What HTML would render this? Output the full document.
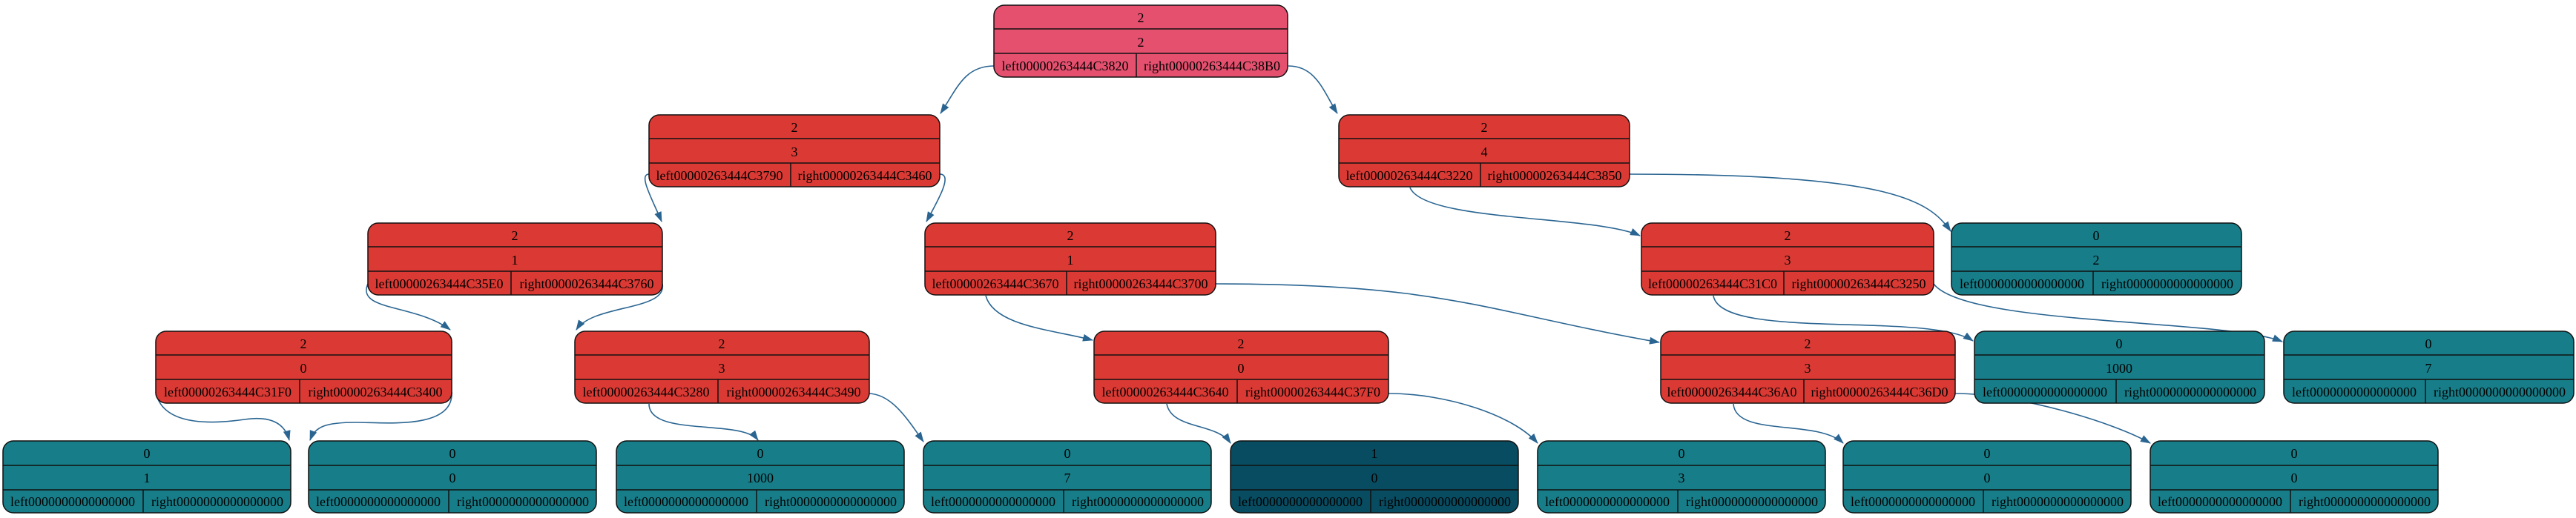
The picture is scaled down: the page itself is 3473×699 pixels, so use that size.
<!DOCTYPE html>
<html><head><meta charset="utf-8"><style>
html,body{margin:0;padding:0;background:#fff;}
svg{display:block;}
text{font-family:"Liberation Serif",serif;font-size:18px;fill:#000;text-anchor:middle;}
.n rect{stroke:#111;stroke-width:1.5;}
.n line{stroke:#111;stroke-width:1.5;}
.e{fill:none;stroke:#2a6592;stroke-width:1.6;}
</style></head><body>
<svg width="3473" height="699" viewBox="0 0 3473 699" xmlns="http://www.w3.org/2000/svg">
<defs><marker id="a" viewBox="0 0 14 10" refX="13" refY="5" markerWidth="14" markerHeight="10" markerUnits="userSpaceOnUse" orient="auto"><path d="M0,0 L14,5 L0,10 z" fill="#2a6592"/></marker></defs>

<g class="edges">
<path class="e" marker-end="url(#a)" d="M1340,89 C1300,89 1290,120 1268,153"/>
<path class="e" marker-end="url(#a)" d="M1737,89 C1775,89 1785,125 1803,153"/>
<path class="e" marker-end="url(#a)" d="M875,235 C860,235 880,270 892,299"/>
<path class="e" marker-end="url(#a)" d="M1267,235 C1285,235 1265,270 1249,299"/>
<path class="e" marker-end="url(#a)" d="M1901,253 C1920,300 2150,290 2211,318"/>
<path class="e" marker-end="url(#a)" d="M2197,235 C2550,235 2600,270 2630,312"/>
<path class="e" marker-end="url(#a)" d="M496,383 C480,420 560,410 607,445"/>
<path class="e" marker-end="url(#a)" d="M893,383 C900,420 800,410 777,445"/>
<path class="e" marker-end="url(#a)" d="M1329,399 C1340,440 1420,445 1473,459"/>
<path class="e" marker-end="url(#a)" d="M1639,383 C1950,383 2000,420 2237,462"/>
<path class="e" marker-end="url(#a)" d="M2310,399 C2320,460 2600,420 2660,460"/>
<path class="e" marker-end="url(#a)" d="M2607,383 C2650,440 3000,430 3077,461"/>
<path class="e" marker-end="url(#a)" d="M210,529 C220,580 300,570 330,566 C370,560 385,575 390,594"/>
<path class="e" marker-end="url(#a)" d="M609,529 C612,580 520,570 480,570 C440,570 425,575 418,594"/>
<path class="e" marker-end="url(#a)" d="M875,545 C875,590 1000,565 1022,594"/>
<path class="e" marker-end="url(#a)" d="M1170,531 C1200,531 1220,560 1245,596"/>
<path class="e" marker-end="url(#a)" d="M1573,545 C1580,580 1640,570 1659,598"/>
<path class="e" marker-end="url(#a)" d="M1872,531 C1950,531 2040,560 2073,598"/>
<path class="e" marker-end="url(#a)" d="M2337,545 C2340,590 2450,565 2485,598"/>
<path class="e" marker-end="url(#a)" d="M2636,531 C2720,531 2850,570 2899,598"/>
</g>

<!-- Root -->
<g class="n" transform="translate(1340,7)"><rect x="0" y="0" width="396" height="97" rx="14" fill="#E5506F"/><line x1="0" y1="32" x2="396" y2="32"/><line x1="0" y1="65" x2="396" y2="65"/><line x1="192" y1="65" x2="192" y2="97"/><text x="198" y="23">2</text><text x="198" y="56">2</text><text x="96" y="88">left00000263444C3820</text><text x="294" y="88">right00000263444C38B0</text></g>

<g class="n" transform="translate(875,155)"><rect x="0" y="0" width="392" height="97" rx="14" fill="#DB3A34"/><line x1="0" y1="32" x2="392" y2="32"/><line x1="0" y1="65" x2="392" y2="65"/><line x1="191" y1="65" x2="191" y2="97"/><text x="196" y="23">2</text><text x="196" y="56">3</text><text x="95" y="88">left00000263444C3790</text><text x="291" y="88">right00000263444C3460</text></g>

<g class="n" transform="translate(1805,155)"><rect x="0" y="0" width="392" height="97" rx="14" fill="#DB3A34"/><line x1="0" y1="32" x2="392" y2="32"/><line x1="0" y1="65" x2="392" y2="65"/><line x1="191" y1="65" x2="191" y2="97"/><text x="196" y="23">2</text><text x="196" y="56">4</text><text x="95" y="88">left00000263444C3220</text><text x="291" y="88">right00000263444C3850</text></g>

<g class="n" transform="translate(496,301)"><rect x="0" y="0" width="397" height="97" rx="14" fill="#DB3A34"/><line x1="0" y1="32" x2="397" y2="32"/><line x1="0" y1="65" x2="397" y2="65"/><line x1="193" y1="65" x2="193" y2="97"/><text x="198" y="23">2</text><text x="198" y="56">1</text><text x="96" y="88">left00000263444C35E0</text><text x="295" y="88">right00000263444C3760</text></g>

<g class="n" transform="translate(1247,301)"><rect x="0" y="0" width="392" height="97" rx="14" fill="#DB3A34"/><line x1="0" y1="32" x2="392" y2="32"/><line x1="0" y1="65" x2="392" y2="65"/><line x1="191" y1="65" x2="191" y2="97"/><text x="196" y="23">2</text><text x="196" y="56">1</text><text x="95" y="88">left00000263444C3670</text><text x="291" y="88">right00000263444C3700</text></g>

<g class="n" transform="translate(2213,301)"><rect x="0" y="0" width="394" height="97" rx="14" fill="#DB3A34"/><line x1="0" y1="32" x2="394" y2="32"/><line x1="0" y1="65" x2="394" y2="65"/><line x1="192" y1="65" x2="192" y2="97"/><text x="197" y="23">2</text><text x="197" y="56">3</text><text x="96" y="88">left00000263444C31C0</text><text x="293" y="88">right00000263444C3250</text></g>

<g class="n" transform="translate(2631,301)"><rect x="0" y="0" width="391" height="97" rx="14" fill="#177E89"/><line x1="0" y1="32" x2="391" y2="32"/><line x1="0" y1="65" x2="391" y2="65"/><line x1="191" y1="65" x2="191" y2="97"/><text x="195" y="23">0</text><text x="195" y="56">2</text><text x="95" y="88">left0000000000000000</text><text x="291" y="88">right0000000000000000</text></g>

<g class="n" transform="translate(210,447)"><rect x="0" y="0" width="399" height="97" rx="14" fill="#DB3A34"/><line x1="0" y1="32" x2="399" y2="32"/><line x1="0" y1="65" x2="399" y2="65"/><line x1="194" y1="65" x2="194" y2="97"/><text x="199" y="23">2</text><text x="199" y="56">0</text><text x="97" y="88">left00000263444C31F0</text><text x="296" y="88">right00000263444C3400</text></g>

<g class="n" transform="translate(775,447)"><rect x="0" y="0" width="397" height="97" rx="14" fill="#DB3A34"/><line x1="0" y1="32" x2="397" y2="32"/><line x1="0" y1="65" x2="397" y2="65"/><line x1="193" y1="65" x2="193" y2="97"/><text x="198" y="23">2</text><text x="198" y="56">3</text><text x="96" y="88">left00000263444C3280</text><text x="295" y="88">right00000263444C3490</text></g>

<g class="n" transform="translate(1475,447)"><rect x="0" y="0" width="397" height="97" rx="14" fill="#DB3A34"/><line x1="0" y1="32" x2="397" y2="32"/><line x1="0" y1="65" x2="397" y2="65"/><line x1="193" y1="65" x2="193" y2="97"/><text x="198" y="23">2</text><text x="198" y="56">0</text><text x="96" y="88">left00000263444C3640</text><text x="295" y="88">right00000263444C37F0</text></g>

<g class="n" transform="translate(2239,447)"><rect x="0" y="0" width="397" height="97" rx="14" fill="#DB3A34"/><line x1="0" y1="32" x2="397" y2="32"/><line x1="0" y1="65" x2="397" y2="65"/><line x1="193" y1="65" x2="193" y2="97"/><text x="198" y="23">2</text><text x="198" y="56">3</text><text x="96" y="88">left00000263444C36A0</text><text x="295" y="88">right00000263444C36D0</text></g>

<g class="n" transform="translate(2662,447)"><rect x="0" y="0" width="391" height="97" rx="14" fill="#177E89"/><line x1="0" y1="32" x2="391" y2="32"/><line x1="0" y1="65" x2="391" y2="65"/><line x1="191" y1="65" x2="191" y2="97"/><text x="195" y="23">0</text><text x="195" y="56">1000</text><text x="95" y="88">left0000000000000000</text><text x="291" y="88">right0000000000000000</text></g>

<g class="n" transform="translate(3079,447)"><rect x="0" y="0" width="391" height="97" rx="14" fill="#177E89"/><line x1="0" y1="32" x2="391" y2="32"/><line x1="0" y1="65" x2="391" y2="65"/><line x1="191" y1="65" x2="191" y2="97"/><text x="195" y="23">0</text><text x="195" y="56">7</text><text x="95" y="88">left0000000000000000</text><text x="291" y="88">right0000000000000000</text></g>

<!-- bottom row -->
<g class="n" transform="translate(4,595)"><rect x="0" y="0" width="388" height="97" rx="14" fill="#177E89"/><line x1="0" y1="33" x2="388" y2="33"/><line x1="0" y1="66" x2="388" y2="66"/><line x1="189" y1="66" x2="189" y2="97"/><text x="194" y="23">0</text><text x="194" y="56">1</text><text x="94" y="88">left0000000000000000</text><text x="289" y="88">right0000000000000000</text></g>
<g class="n" transform="translate(416,595)"><rect x="0" y="0" width="388" height="97" rx="14" fill="#177E89"/><line x1="0" y1="33" x2="388" y2="33"/><line x1="0" y1="66" x2="388" y2="66"/><line x1="189" y1="66" x2="189" y2="97"/><text x="194" y="23">0</text><text x="194" y="56">0</text><text x="94" y="88">left0000000000000000</text><text x="289" y="88">right0000000000000000</text></g>
<g class="n" transform="translate(831,595)"><rect x="0" y="0" width="388" height="97" rx="14" fill="#177E89"/><line x1="0" y1="33" x2="388" y2="33"/><line x1="0" y1="66" x2="388" y2="66"/><line x1="189" y1="66" x2="189" y2="97"/><text x="194" y="23">0</text><text x="194" y="56">1000</text><text x="94" y="88">left0000000000000000</text><text x="289" y="88">right0000000000000000</text></g>
<g class="n" transform="translate(1245,595)"><rect x="0" y="0" width="388" height="97" rx="14" fill="#177E89"/><line x1="0" y1="33" x2="388" y2="33"/><line x1="0" y1="66" x2="388" y2="66"/><line x1="189" y1="66" x2="189" y2="97"/><text x="194" y="23">0</text><text x="194" y="56">7</text><text x="94" y="88">left0000000000000000</text><text x="289" y="88">right0000000000000000</text></g>
<g class="n" transform="translate(1659,595)"><rect x="0" y="0" width="388" height="97" rx="14" fill="#084C61"/><line x1="0" y1="33" x2="388" y2="33"/><line x1="0" y1="66" x2="388" y2="66"/><line x1="189" y1="66" x2="189" y2="97"/><text x="194" y="23">1</text><text x="194" y="56">0</text><text x="94" y="88">left0000000000000000</text><text x="289" y="88">right0000000000000000</text></g>
<g class="n" transform="translate(2073,595)"><rect x="0" y="0" width="388" height="97" rx="14" fill="#177E89"/><line x1="0" y1="33" x2="388" y2="33"/><line x1="0" y1="66" x2="388" y2="66"/><line x1="189" y1="66" x2="189" y2="97"/><text x="194" y="23">0</text><text x="194" y="56">3</text><text x="94" y="88">left0000000000000000</text><text x="289" y="88">right0000000000000000</text></g>
<g class="n" transform="translate(2485,595)"><rect x="0" y="0" width="388" height="97" rx="14" fill="#177E89"/><line x1="0" y1="33" x2="388" y2="33"/><line x1="0" y1="66" x2="388" y2="66"/><line x1="189" y1="66" x2="189" y2="97"/><text x="194" y="23">0</text><text x="194" y="56">0</text><text x="94" y="88">left0000000000000000</text><text x="289" y="88">right0000000000000000</text></g>
<g class="n" transform="translate(2899,595)"><rect x="0" y="0" width="388" height="97" rx="14" fill="#177E89"/><line x1="0" y1="33" x2="388" y2="33"/><line x1="0" y1="66" x2="388" y2="66"/><line x1="189" y1="66" x2="189" y2="97"/><text x="194" y="23">0</text><text x="194" y="56">0</text><text x="94" y="88">left0000000000000000</text><text x="289" y="88">right0000000000000000</text></g>
</svg>
</body></html>
